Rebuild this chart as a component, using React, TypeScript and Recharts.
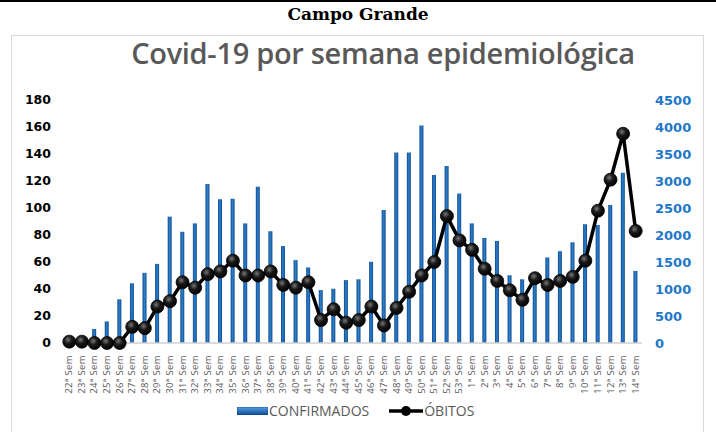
import React from 'react';
import { ComposedChart, Bar, Line, XAxis, YAxis } from 'recharts';

const weeks = [
  '22ª Sem','23ª Sem','24ª Sem','25ª Sem','26ª Sem','27ª Sem','28ª Sem','29ª Sem','30ª Sem','31ª Sem',
  '32ª Sem','33ª Sem','34ª Sem','35ª Sem','36ª Sem','37ª Sem','38ª Sem','39ª Sem','40ª Sem','41ª Sem',
  '42ª Sem','43ª Sem','44ª Sem','45ª Sem','46ª Sem','47ª Sem','48ª Sem','49ª Sem','50ª Sem','51ª Sem',
  '52ª Sem','53ª Sem','1ª Sem','2ª Sem','3ª Sem','4ª Sem','5ª Sem','6ª Sem','7ª Sem','8ª Sem',
  '9ª Sem','10ª Sem','11ª Sem','12ª Sem','13ª Sem','14ª Sem',
];

const confirmados = [
  0, 0, 260, 400, 810, 1105, 1300, 1465, 2340, 2060,
  2215, 2945, 2660, 2670, 2215, 2895, 2070, 1795, 1535, 1400,
  980, 1005, 1165, 1180, 1505, 2465, 3530, 3530, 4030, 3110,
  3280, 2770, 2215, 1945, 1890, 1255, 1180, 1150, 1585, 1700,
  1865, 2200, 2185, 2555, 3155, 1335,
];

const obitos = [
  1, 1, 0, 0, 0, 12, 11, 27, 31, 45,
  41, 51, 53, 61, 50, 50, 53, 43, 41, 45,
  17, 25, 15, 17, 27, 13, 26, 38, 50, 60,
  94, 76, 69, 55, 46, 39, 32, 48, 43, 46,
  49, 61, 98, 121, 155, 83,
];

const leftTicks = [0, 20, 40, 60, 80, 100, 120, 140, 160, 180];
const rightTicks = [0, 500, 1000, 1500, 2000, 2500, 3000, 3500, 4000, 4500];

const data = weeks.map((w, i) => ({ week: w, confirmados: confirmados[i], obitos: obitos[i] }));

const XTick = (props: any) => {
  const { x, y, payload } = props;
  return (
    <text
      x={0}
      y={0}
      transform={`translate(${x + 3},${y + 4}) rotate(-90)`}
      textAnchor="end"
      fontSize={9.5}
      letterSpacing={0.4}
      fill="#595959"
      fontFamily="'Open Sans', sans-serif"
    >
      {payload.value}
    </text>
  );
};

const Dot = (props: any) => {
  const { cx, cy, index } = props;
  if (cx == null || cy == null) return null;
  return (
    <g key={`dot-${index}`}>
      <circle cx={cx} cy={cy} r={6.5} fill="url(#dotGrad)" stroke="#000" strokeWidth={0.8} />
    </g>
  );
};

export default function App() {
  return (
    <div style={{ position: 'absolute', left: 0, top: 0, width: 716, height: 432, background: '#fff', overflow: 'hidden' }}>
      <div style={{ position: 'absolute', left: 0, top: 0, width: 716, height: 2, background: '#000' }} />
      <div
        style={{
          position: 'absolute', left: 0, top: 4, width: 716, textAlign: 'center',
          fontFamily: "'DejaVu Serif', 'Liberation Serif', serif", fontWeight: 'bold', fontSize: 17, color: '#000',
        }}
      >
        Campo Grande
      </div>
      <div
        style={{
          position: 'absolute', left: 11, top: 35, width: 693, height: 420,
          border: '1px solid #d9d9d9', boxSizing: 'border-box',
        }}
      />
      <div
        style={{
          position: 'absolute', left: 103, top: 33, width: 560, textAlign: 'center',
          fontFamily: "'Open Sans', sans-serif", fontWeight: 600, fontSize: 29, color: '#595959',
          letterSpacing: -0.3,
        }}
      >
        Covid-19 por semana epidemiológica
      </div>
      <div style={{ position: 'absolute', left: 0, top: 0 }}>
        <ComposedChart
          width={716}
          height={432}
          data={data}
          margin={{ top: 100, right: 10, bottom: 44, left: 10 }}
          barCategoryGap={0}
        >
          <defs>
            <linearGradient id="barGrad" x1="0" y1="0" x2="1" y2="0">
              <stop offset="0%" stopColor="#0b4a8c" />
              <stop offset="50%" stopColor="#2f7fcc" />
              <stop offset="100%" stopColor="#0b4a8c" />
            </linearGradient>
            <radialGradient id="dotGrad" cx="40%" cy="35%" r="65%">
              <stop offset="0%" stopColor="#777" />
              <stop offset="45%" stopColor="#1a1a1a" />
              <stop offset="100%" stopColor="#000" />
            </radialGradient>
          </defs>
          <XAxis
            dataKey="week"
            interval={0}
            tick={<XTick />}
            tickLine={false}
            axisLine={{ stroke: '#d0d0d0', strokeWidth: 1.5 }}
            height={45}
          />
          <YAxis
            yAxisId="left"
            orientation="left"
            domain={[0, 180]}
            ticks={leftTicks}
            width={53}
            tickLine={false}
            axisLine={false}
            tickSize={0}
            tickMargin={12}
            tick={{ fill: '#000', fontSize: 12.5, fontWeight: 'bold', fontFamily: "'DejaVu Sans', sans-serif" }}
          />
          <YAxis
            yAxisId="right"
            orientation="right"
            domain={[0, 4500]}
            ticks={rightTicks}
            width={64}
            tickLine={false}
            axisLine={false}
            tickSize={0}
            tickMargin={13}
            tick={{ fill: '#1f77c9', fontSize: 13, fontWeight: 'bold', fontFamily: "'DejaVu Sans', sans-serif", textAnchor: 'start' }}
          />
          <Bar
            yAxisId="right"
            dataKey="confirmados"
            fill="url(#barGrad)"
            barSize={4}
            isAnimationActive={false}
          />
          <Line
            yAxisId="left"
            dataKey="obitos"
            type="linear"
            stroke="#000"
            strokeWidth={3.5}
            dot={<Dot />}
            activeDot={false}
            isAnimationActive={false}
          />
        </ComposedChart>
      </div>
      <div
        style={{
          position: 'absolute', left: 237, top: 401, display: 'flex', alignItems: 'center',
          fontFamily: "'Open Sans', sans-serif", fontSize: 14, color: '#595959',
        }}
      >
        <svg width={31} height={8} style={{ marginRight: 1 }}>
          <defs>
            <linearGradient id="legBar" x1="0" y1="0" x2="0" y2="1">
              <stop offset="0%" stopColor="#5aa0e6" />
              <stop offset="100%" stopColor="#0b4a8c" />
            </linearGradient>
          </defs>
          <rect x={0} y={0} width={31} height={8} fill="url(#legBar)" stroke="#0b4a8c" strokeWidth={0.8} />
        </svg>
        <span>CONFIRMADOS</span>
        <svg width={34} height={14} style={{ marginLeft: 20, marginRight: 1 }}>
          <line x1={0} y1={7} x2={34} y2={7} stroke="#000" strokeWidth={3.5} />
          <circle cx={17} cy={7} r={5} fill="#000" />
        </svg>
        <span>ÓBITOS</span>
      </div>
    </div>
  );
}
